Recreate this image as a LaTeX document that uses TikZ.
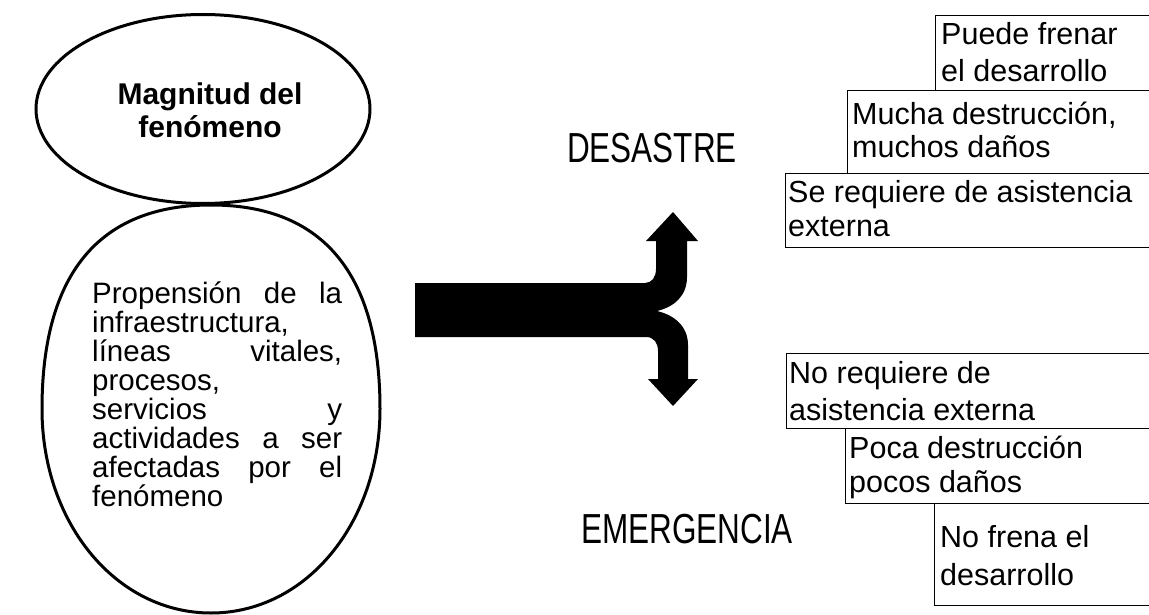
\documentclass[tikz,border=0pt]{standalone}
\usepackage{fontspec}
\setmainfont{Liberation Sans}
\usepackage{graphicx}
\usetikzlibrary{shapes.geometric}
\begin{document}
\begin{tikzpicture}[x=1pt,y=-1pt,
  oval/.style={draw=black, line width=3pt, ellipse, inner sep=0pt},
  ovalline/.style={draw=black, line width=3pt},
  boxframe/.style={draw=black, line width=1.3pt, anchor=north west, minimum width=420pt, inner sep=0pt},
  boxtext/.style={anchor=base west, inner sep=0pt},
  bigword/.style={anchor=base west, inner sep=0pt, font=\fontsize{42}{48}\selectfont}]
\useasboundingbox (0,0) rectangle (1149,615);
\clip (0,0) rectangle (1149,615);

% left ovals
\node[oval, minimum width=334pt, minimum height=189pt] (mag) at (203,109) {};
\draw[ovalline] (211,205) .. controls (323,205) and (380,274) .. (380,409)
  .. controls (380,523) and (306,613) .. (211,613)
  .. controls (116,613) and (42,523) .. (42,409)
  .. controls (42,274) and (99,205) .. (211,205) -- cycle;

\node[anchor=base, inner sep=0pt] (magtext) at (210,105)
  {\parbox[t]{260pt}{\centering\fontsize{30}{33}\selectfont\bfseries Magnitud del\\ fenómeno}};

\node[anchor=base west, inner sep=0pt] (proptext) at (92,303)
  {\parbox[t]{250pt}{\fontsize{29.5}{29}\selectfont
  \makebox[250pt][s]{Propensión de la}\\
  infraestructura,\\
  \makebox[250pt][s]{líneas vitales,}\\
  procesos,\\
  \makebox[250pt][s]{servicios y}\\
  \makebox[250pt][s]{actividades a ser}\\
  \makebox[250pt][s]{afectadas por el}\\
  fenómeno}};

% split arrow
\fill[black] (415,283) -- (645,283) .. controls (652,283) and (656,277) .. (656,269)
  -- (656,241) -- (646,241) -- (673,212) -- (698,241) -- (687,241) -- (687,277)
  .. controls (687,296) and (674,307) .. (657,311)
  .. controls (674,315) and (688,326) .. (688,345)
  -- (688,379) -- (698,379) -- (673,406) -- (648,379) -- (658,379) -- (658,351)
  .. controls (658,343) and (654,337) .. (646,337) -- (415,337) -- cycle;

% big words
\node[bigword] (desastre) at (567,163) {\scalebox{0.75}[1]{DESASTRE}};
\node[bigword] (emergencia) at (581,543) {\scalebox{0.75}[1]{EMERGENCIA}};

% upper boxes
\node[boxframe, minimum height=75pt] (b1) at (935,15) {};
\node[boxframe, minimum height=83pt] (b2) at (847,90) {};
\node[boxframe, minimum height=74pt] (b3) at (785,173) {};
\node[boxtext] (t1) at (941,45) {\parbox[t]{220pt}{\fontsize{30.5}{37}\selectfont Puede frenar\\ el desarrollo}};
\node[boxtext] (t2) at (852,125) {\parbox[t]{300pt}{\fontsize{30.5}{33}\selectfont Mucha destrucción,\\ muchos daños}};
\node[boxtext] (t3) at (788,203) {\parbox[t]{380pt}{\fontsize{30.5}{34}\selectfont Se requiere de asistencia\\ externa}};

% lower boxes
\node[boxframe, minimum height=75pt] (b4) at (786,353) {};
\node[boxframe, minimum height=75pt] (b5) at (845,428) {};
\node[boxframe, minimum height=102pt] (b6) at (934,503) {};
\node[boxtext] (t4) at (789,383) {\parbox[t]{380pt}{\fontsize{30.5}{37}\selectfont No requiere de\\ asistencia externa}};
\node[boxtext] (t5) at (849,458) {\parbox[t]{300pt}{\fontsize{30.5}{34}\selectfont Poca destrucción\\ pocos daños}};
\node[boxtext] (t6) at (940,547) {\parbox[t]{220pt}{\fontsize{30.5}{38}\selectfont No frena el\\ desarrollo}};
\end{tikzpicture}
\end{document}
